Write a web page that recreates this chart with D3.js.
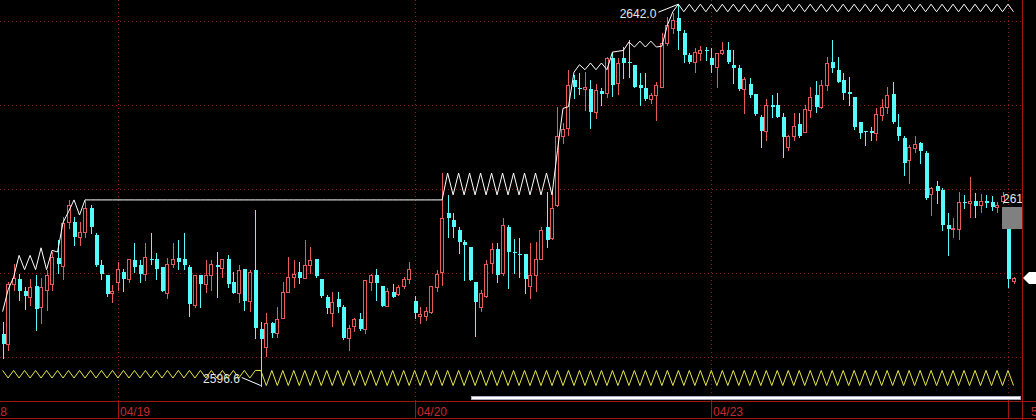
<!DOCTYPE html>
<html><head><meta charset="utf-8">
<script src="https://cdn.jsdelivr.net/npm/d3@7"></script>
<style>html,body{margin:0;padding:0;background:#000;overflow:hidden}svg{display:block}</style>
</head><body><svg id="c" width="1036" height="420"></svg>
<script>
// ---- data ----
const openP = [2602.7,2601.5,2608.7,2609.3,2607.9,2607.1,2608.5,2606.0,2608.0,2608.7,
2611.8,2610.8,2616.1,2616.1,2614.3,2614.9,2617.7,2614.5,2611.0,2609.8,
2607.6,2608.9,2610.1,2609.3,2611.5,2611.0,2609.9,2611.7,2611.7,2610.7,
2607.6,2611.1,2611.8,2611.7,2610.7,2606.2,2609.8,2608.7,2609.8,2611.0,
2610.6,2611.7,2608.9,2607.6,2610.5,2606.7,2610.4,2603.3,2601.2,2604.0,
2602.9,2604.6,2607.7,2609.5,2610.1,2609.4,2611.0,2611.7,2609.3,2607.1,
2605.2,2606.9,2606.0,2602.3,2603.7,2604.5,2603.3,2608.9,2609.8,2608.5,
2606.1,2607.7,2607.5,2608.5,2609.3,2606.7,2604.9,2604.9,2605.4,2608.3,
2610.1,2617.1,2616.3,2615.1,2613.7,2613.1,2608.9,2606.0,2607.3,2611.2,
2612.9,2610.0,2615.5,2612.5,2612.3,2612.3,2608.5,2609.8,2611.7,2615.5,
2614.2,2618.1,2626.3,2627.3,2633.0,2632.0,2631.9,2631.9,2629.2,2631.7,
2631.4,2635.6,2632.6,2635.6,2635.1,2634.8,2632.4,2632.0,2630.7,2631.2,
2632.1,2637.4,2639.2,2640.4,2638.6,2636.0,2635.1,2636.2,2636.5,2635.6,
2634.5,2636.2,2636.5,2634.8,2634.4,2631.9,2632.5,2631.3,2628.6,2626.9,
2630.0,2630.0,2628.6,2625.0,2626.3,2627.7,2626.8,2629.4,2631.2,2629.8,
2632.4,2635.1,2634.2,2633.0,2631.5,2631.0,2628.0,2626.9,2626.9,2626.7,
2628.8,2629.8,2631.3,2627.4,2626.1,2623.5,2624.9,2625.5,2624.3,2619.4,
2620.4,2619.9,2615.7,2615.2,2615.2,2618.5,2618.3,2618.6,2618.1,2618.6,
2618.5,2617.9,2618.6,2617.3,2609.1];
const highP = [2604.2,2608.9,2611.1,2609.9,2608.3,2609.3,2609.8,2609.4,2610.4,2612.5,
2613.9,2616.7,2618.7,2616.7,2616.1,2618.6,2618.1,2614.8,2611.5,2609.8,
2608.6,2611.3,2610.5,2611.7,2613.6,2611.5,2613.6,2614.8,2612.4,2610.7,
2611.8,2613.6,2613.9,2614.8,2611.0,2609.8,2609.8,2611.5,2611.5,2612.5,
2611.7,2612.1,2610.1,2611.0,2610.5,2610.4,2617.5,2604.2,2605.2,2604.2,
2606.0,2608.9,2611.9,2611.5,2611.3,2613.9,2613.1,2611.7,2609.3,2607.4,
2607.7,2607.7,2606.2,2603.8,2604.6,2605.2,2609.2,2609.9,2610.5,2608.5,
2608.2,2608.7,2608.6,2609.5,2611.3,2607.3,2606.0,2606.0,2608.5,2610.4,
2621.9,2619.3,2617.1,2615.5,2613.9,2613.1,2608.9,2608.0,2611.5,2613.6,
2613.6,2616.5,2615.7,2614.0,2614.2,2612.3,2613.6,2613.7,2615.5,2619.6,
2619.6,2629.8,2627.9,2634.2,2633.6,2633.8,2633.9,2633.0,2632.5,2632.0,
2635.7,2636.3,2635.6,2636.9,2637.7,2634.8,2633.8,2633.8,2631.4,2632.7,
2638.6,2640.5,2641.0,2642.0,2638.9,2636.2,2636.8,2637.0,2636.9,2636.8,
2636.2,2637.5,2637.5,2636.5,2634.8,2633.3,2633.2,2631.3,2628.8,2630.7,
2631.2,2631.4,2629.0,2626.4,2629.0,2629.0,2630.0,2632.1,2632.9,2633.0,
2635.7,2637.7,2635.7,2633.8,2633.3,2631.0,2628.0,2626.9,2627.4,2629.6,
2630.7,2632.1,2632.7,2628.9,2626.3,2625.2,2626.3,2625.6,2624.5,2620.2,
2621.0,2620.1,2617.1,2616.5,2619.6,2619.3,2621.4,2619.5,2619.4,2619.3,
2619.2,2618.5,2619.6,2617.7,2609.5];
const lowP = [2599.9,2600.8,2608.0,2606.8,2605.7,2606.2,2603.2,2604.0,2605.6,2608.0,
2610.0,2609.3,2615.4,2613.3,2613.3,2614.3,2614.8,2610.8,2609.3,2607.3,
2606.5,2608.0,2607.9,2608.9,2610.1,2608.9,2609.2,2611.1,2609.3,2607.9,
2607.0,2610.7,2610.5,2610.5,2604.9,2606.0,2606.0,2607.7,2608.0,2607.1,
2609.5,2608.3,2607.6,2606.5,2605.6,2605.5,2602.3,2596.6,2600.1,2602.4,
2602.4,2604.6,2607.7,2608.3,2608.8,2609.4,2610.0,2609.5,2607.1,2605.2,
2603.7,2605.4,2602.1,2600.8,2603.1,2603.2,2602.9,2608.0,2606.8,2606.1,
2606.1,2607.1,2607.4,2608.2,2608.8,2604.6,2604.0,2604.4,2605.2,2607.9,
2608.6,2614.3,2614.3,2612.4,2609.2,2609.2,2602.5,2605.5,2607.1,2610.0,
2608.9,2609.8,2608.2,2610.0,2609.5,2607.6,2607.0,2607.9,2611.7,2613.1,
2614.0,2618.0,2625.5,2626.4,2630.8,2631.3,2629.4,2627.3,2628.5,2630.0,
2631.0,2631.1,2631.3,2633.2,2633.3,2632.1,2630.0,2630.6,2630.2,2628.2,
2632.1,2637.1,2638.6,2636.7,2635.1,2635.0,2633.9,2635.4,2635.4,2633.9,
2632.1,2636.1,2635.0,2632.6,2631.8,2629.0,2631.0,2628.8,2625.0,2625.8,
2628.6,2628.6,2623.8,2624.6,2625.8,2626.2,2626.8,2628.6,2629.2,2629.6,
2631.8,2633.9,2632.7,2630.7,2630.0,2627.1,2626.1,2625.2,2625.8,2625.8,
2628.2,2629.0,2627.9,2625.8,2621.7,2620.7,2624.4,2623.1,2618.8,2616.9,
2618.3,2615.1,2612.1,2614.3,2614.0,2617.7,2616.7,2616.7,2617.3,2617.9,
2617.5,2617.3,2618.3,2608.3,2608.8];
const closeP = [2601.5,2608.7,2609.4,2607.9,2607.3,2608.3,2605.7,2608.3,2609.8,2611.9,
2611.1,2616.0,2618.1,2614.3,2614.9,2617.7,2615.5,2611.0,2609.9,2607.5,
2607.9,2610.5,2609.3,2611.7,2610.7,2609.9,2611.9,2611.5,2610.5,2607.9,
2611.1,2611.7,2611.3,2611.0,2606.3,2609.8,2608.7,2609.8,2611.1,2610.7,
2611.7,2608.7,2607.6,2610.4,2606.7,2610.1,2603.5,2602.1,2604.0,2602.9,
2604.5,2607.7,2609.5,2609.9,2609.4,2611.0,2611.5,2609.6,2607.3,2605.8,
2606.5,2606.0,2602.3,2603.5,2604.5,2603.3,2609.2,2609.8,2608.8,2606.1,
2607.9,2607.1,2608.3,2609.3,2610.5,2605.2,2605.1,2605.5,2608.5,2609.9,
2616.5,2616.5,2615.5,2613.7,2613.3,2609.2,2606.5,2607.6,2611.1,2612.9,
2609.8,2615.7,2612.5,2612.4,2612.1,2609.3,2609.8,2611.7,2615.1,2613.9,
2617.7,2626.3,2627.1,2632.4,2632.1,2631.9,2632.1,2629.2,2631.8,2631.3,
2635.6,2632.4,2635.0,2635.0,2635.0,2632.1,2632.0,2630.7,2631.2,2632.4,
2637.4,2639.5,2640.1,2638.8,2636.0,2635.1,2636.3,2636.5,2636.4,2634.8,
2636.2,2636.5,2635.1,2634.4,2631.9,2633.1,2631.2,2628.9,2626.9,2630.0,
2629.8,2628.6,2626.2,2626.3,2627.5,2626.3,2629.5,2631.0,2629.8,2632.4,
2635.0,2634.4,2632.7,2631.4,2631.3,2627.4,2626.7,2626.8,2626.7,2628.9,
2629.8,2631.2,2628.0,2626.3,2623.1,2625.0,2625.4,2624.5,2618.9,2620.1,
2619.8,2615.7,2615.2,2615.4,2618.5,2618.3,2618.6,2618.0,2618.6,2618.3,
2617.9,2618.1,2619.2,2609.3,2609.4];
// upper (white) and lower (yellow) band lines, one value per bar
const upperLine = [2605.4,2608.0,2609.5,2612.1,2610.4,2612.1,2610.4,2613.0,2610.4,2612.7,
2612.5,2616.0,2617.3,2618.7,2616.9,2618.7,2618.7,2618.7,2618.7,2618.7,
2618.7,2618.7,2618.7,2618.7,2618.7,2618.7,2618.7,2618.7,2618.7,2618.7,
2618.7,2618.7,2618.7,2618.7,2618.7,2618.7,2618.7,2618.7,2618.7,2618.7,
2618.7,2618.7,2618.7,2618.7,2618.7,2618.7,2618.7,2618.7,2618.7,2618.7,
2618.7,2618.7,2618.7,2618.7,2618.7,2618.7,2618.7,2618.7,2618.7,2618.7,
2618.7,2618.7,2618.7,2618.7,2618.7,2618.7,2618.7,2618.7,2618.7,2618.7,
2618.7,2618.7,2618.7,2618.7,2618.7,2618.7,2618.7,2618.7,2618.7,2618.7,
2618.7,2621.9,2619.3,2621.9,2619.3,2621.9,2619.3,2621.9,2619.3,2621.9,
2619.3,2621.9,2619.3,2621.9,2619.3,2621.9,2619.3,2621.9,2619.3,2621.9,
2619.3,2624.6,2629.6,2629.8,2633.9,2634.8,2634.2,2635.0,2634.2,2635.0,
2634.2,2636.3,2636.4,2636.5,2637.5,2636.9,2637.6,2636.9,2637.6,2636.9,
2637.0,2639.5,2641.1,2642.0,2641.1,2642.0,2641.1,2642.0,2641.1,2642.0,
2641.1,2642.0,2641.1,2642.0,2641.1,2642.0,2641.1,2642.0,2641.1,2642.0,
2641.1,2642.0,2641.1,2642.0,2641.1,2642.0,2641.1,2642.0,2641.1,2642.0,
2641.1,2642.0,2641.1,2642.0,2641.1,2642.0,2641.1,2642.0,2641.1,2642.0,
2641.1,2642.0,2641.1,2642.0,2641.1,2642.0,2641.1,2642.0,2641.1,2642.0,
2641.1,2642.0,2641.1,2642.0,2641.1,2642.0,2641.1,2642.0,2641.1,2642.0,
2641.1,2642.0,2641.1,2642.0,2641.1];
const lowerLine = [2598.4,2597.5,2598.4,2597.5,2598.4,2597.5,2598.4,2597.5,2598.4,2597.5,
2598.4,2597.5,2598.4,2597.5,2598.4,2597.5,2598.4,2597.5,2598.4,2597.5,
2598.4,2597.5,2598.4,2597.5,2598.4,2597.5,2598.4,2597.5,2598.4,2597.5,
2598.4,2597.5,2598.4,2597.5,2598.4,2597.5,2598.4,2597.5,2598.4,2597.5,
2598.4,2597.5,2598.4,2597.5,2598.4,2597.5,2598.4,2598.4,2596.6,2598.4,
2596.6,2598.4,2596.6,2598.4,2596.6,2598.4,2596.6,2598.4,2596.6,2598.4,
2596.6,2598.4,2596.6,2598.4,2596.6,2598.4,2596.6,2598.4,2596.6,2598.4,
2596.6,2598.4,2596.6,2598.4,2596.6,2598.4,2596.6,2598.4,2596.6,2598.4,
2596.6,2598.4,2596.6,2598.4,2596.6,2598.4,2596.6,2598.4,2596.6,2598.4,
2596.6,2598.4,2596.6,2598.4,2596.6,2598.4,2596.6,2598.4,2596.6,2598.4,
2596.6,2598.4,2596.6,2598.4,2596.6,2598.4,2596.6,2598.4,2596.6,2598.4,
2596.6,2598.4,2596.6,2598.4,2596.6,2598.4,2596.6,2598.4,2596.6,2598.4,
2596.6,2598.4,2596.6,2598.4,2596.6,2598.4,2596.6,2598.4,2596.6,2598.4,
2596.6,2598.4,2596.6,2598.4,2596.6,2598.4,2596.6,2598.4,2596.6,2598.4,
2596.6,2598.4,2596.6,2598.4,2596.6,2598.4,2596.6,2598.4,2596.6,2598.4,
2596.6,2598.4,2596.6,2598.4,2596.6,2598.4,2596.6,2598.4,2596.6,2598.4,
2596.6,2598.4,2596.6,2598.4,2596.6,2598.4,2596.6,2598.4,2596.6,2598.4,
2596.6,2598.4,2596.6,2598.4,2596.6,2598.4,2596.6,2598.4,2596.6,2598.4,
2596.6,2598.4,2596.6,2598.4,2596.6];
const priceGrid = [2600, 2610, 2620, 2630, 2640];
const dateLabels = ["04/18", "04/19", "04/20", "04/23", ""];
const dateIndex = [-5, 21, 75, 129, 183];
const highLabel = "2642.0", lowLabel = "2596.6", cursorLabel = "2619.2", cornerLabel = "5";
const highIdx = 123, lowIdx = 47, cursorIdx = 182;

// ---- drawing ----
const W = 1036, H = 420, plotR = 1022, axisY = 401;
const n = closeP.length;
const svg = d3.select("#c");
svg.append("rect").attr("width", W).attr("height", H).attr("fill", "#000");
const x = d3.scaleLinear().domain([0, 184]).range([2.6, 1013.5]);
const y = d3.scaleLinear().domain([2600, 2640]).range([357, 21]);
const px = i => Math.round(x(i));
const py = v => Math.round(y(v));

svg.append("defs").append("clipPath").attr("id", "plot")
  .append("rect").attr("x", 0).attr("y", 0).attr("width", plotR).attr("height", axisY);

const GRID = "#8a1c1c", AXIS = "#9c1414", RED = "#e85a5a", CYAN = "#54fcfc";
const g = svg.append("g").attr("clip-path", "url(#plot)");

// grid
g.selectAll(".hg").data(priceGrid).join("line")
  .attr("x1", 0).attr("x2", plotR).attr("y1", d => py(d) + 0.5).attr("y2", d => py(d) + 0.5)
  .attr("stroke", GRID).attr("stroke-dasharray", "1,3");
g.selectAll(".vg").data(dateIndex.filter(d => d >= 0)).join("line")
  .attr("x1", d => px(d) + 0.5).attr("x2", d => px(d) + 0.5).attr("y1", 0).attr("y2", axisY)
  .attr("stroke", GRID).attr("stroke-dasharray", "1,3");

// candles
const idx = d3.range(n);
g.selectAll(".wick").data(idx).join("line")
  .attr("x1", i => px(i) + 0.5).attr("x2", i => px(i) + 0.5)
  .attr("y1", i => py(highP[i])).attr("y2", i => py(lowP[i]) + 1)
  .attr("stroke", i => closeP[i] >= openP[i] ? RED : CYAN);
idx.forEach(i => {
  const up = closeP[i] >= openP[i];
  const t = py(Math.max(openP[i], closeP[i])), b = py(Math.min(openP[i], closeP[i]));
  if (up) {
    g.append("rect").attr("x", px(i) - 1.5).attr("y", t + 0.5)
      .attr("width", 3).attr("height", Math.max(b - t, 0))
      .attr("fill", "#000").attr("stroke", RED);
  } else {
    g.append("rect").attr("x", px(i) - 1).attr("y", t)
      .attr("width", 4).attr("height", Math.max(b - t, 1)).attr("fill", CYAN);
  }
});

// band lines
const line = d3.line().x((d, i) => x(i)).y(d => y(d));
g.append("path").datum(upperLine).attr("d", line).attr("fill", "none").attr("stroke", "#fff").attr("stroke-width", 1);
g.append("path").datum(lowerLine).attr("d", line).attr("fill", "none").attr("stroke", "#e8e84a").attr("stroke-width", 1);

// high / low annotations
const FONT = "'Liberation Sans', Arial, sans-serif";
const hx = x(highIdx), hy = y(highP[highIdx]);
g.append("line").attr("x1", hx - 20).attr("y1", hy + 8).attr("x2", hx).attr("y2", hy).attr("stroke", "#fff");
g.append("text").attr("x", hx - 22).attr("y", hy + 14).attr("text-anchor", "end")
  .attr("font-family", FONT).attr("font-size", 12).attr("fill", "#e6e6e6").text(highLabel);
const lx = x(lowIdx), ly = y(lowP[lowIdx]);
g.append("line").attr("x1", lx - 19).attr("y1", ly - 8).attr("x2", lx).attr("y2", ly).attr("stroke", "#fff");
g.append("text").attr("x", lx - 21).attr("y", ly - 3).attr("text-anchor", "end")
  .attr("font-family", FONT).attr("font-size", 12).attr("fill", "#e6e6e6").text(lowLabel);

// cursor label + gray box
const cy = py(closeP[cursorIdx]);
g.append("text").attr("x", 1003).attr("y", cy + 7)
  .attr("font-family", FONT).attr("font-size", 12).attr("fill", "#e6e6e6").text(cursorLabel);
g.append("rect").attr("x", 1002).attr("y", cy + 11).attr("width", 20).attr("height", 22).attr("fill", "#808080");

// frame / axis
svg.append("line").attr("x1", plotR + 0.5).attr("x2", plotR + 0.5).attr("y1", 0).attr("y2", H).attr("stroke", AXIS);
svg.append("line").attr("x1", 0).attr("x2", W).attr("y1", axisY + 0.5).attr("y2", axisY + 0.5).attr("stroke", AXIS);
svg.append("line").attr("x1", 0).attr("x2", W).attr("y1", 418.5).attr("y2", 418.5).attr("stroke", AXIS);
svg.append("rect").attr("x", 471.5).attr("y", 396.5).attr("width", 549).attr("height", 3)
  .attr("fill", "#fff").attr("stroke", "#a8acc0");
const ax = svg.append("g");
ax.selectAll("line").data(dateIndex).join("line")
  .attr("x1", d => px(d) + 0.5).attr("x2", d => px(d) + 0.5).attr("y1", axisY).attr("y2", 418)
  .attr("stroke", AXIS);
ax.selectAll("text").data(dateLabels).join("text")
  .attr("x", (d, i) => px(dateIndex[i]) + 2).attr("y", 416)
  .attr("font-family", FONT).attr("font-size", 12).attr("fill", "#c42a2a").text(d => d);
svg.append("text").attr("x", 1031).attr("y", 416)
  .attr("font-family", FONT).attr("font-size", 12).attr("fill", "#c42a2a").text(cornerLabel);

// last price marker
const lp = y(closeP[n - 1]);
svg.append("path").attr("d", `M1023,${lp} L1029,${lp - 6} L1036,${lp - 6} L1036,${lp + 6} L1029,${lp + 6} Z`).attr("fill", "#fff");
</script></body></html>
